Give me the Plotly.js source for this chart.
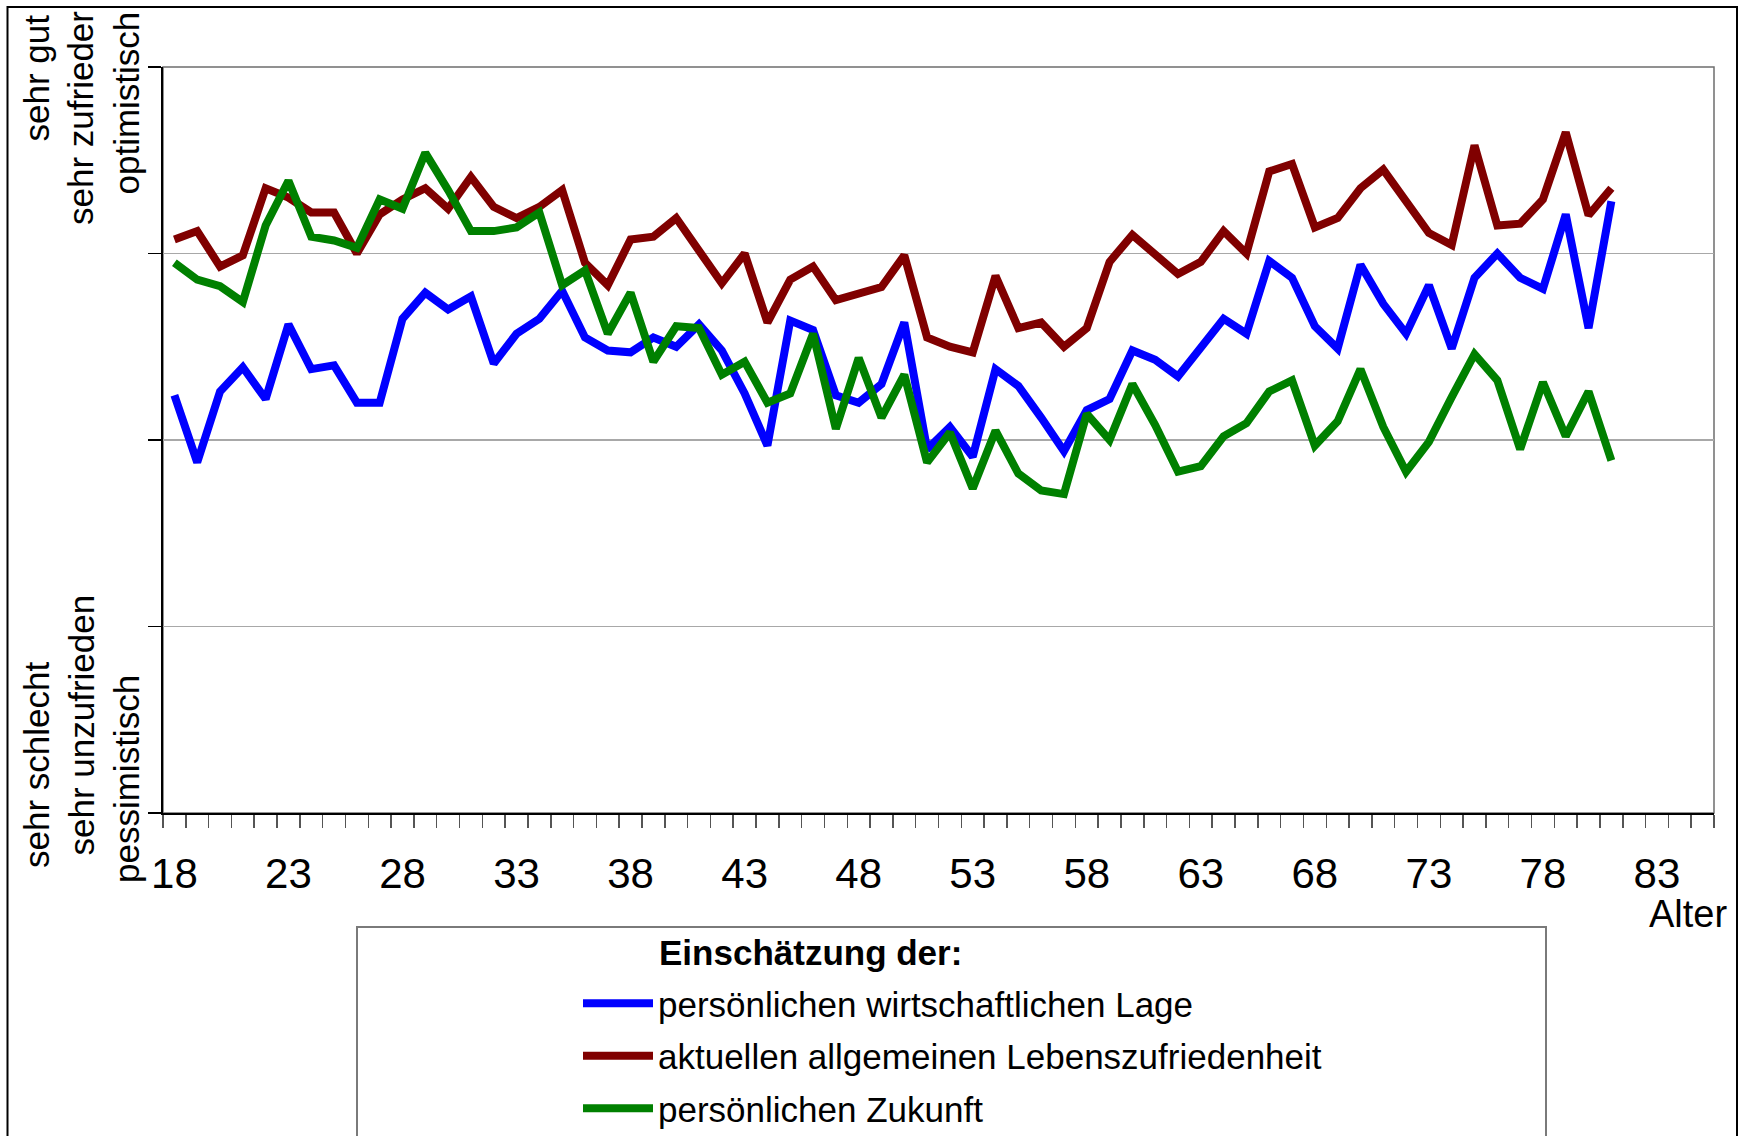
<!DOCTYPE html>
<html>
<head>
<meta charset="utf-8">
<script src="https://cdn.plot.ly/plotly-3.0.1.min.js"></script>
<style>html,body{margin:0;padding:0;background:#fff;}#chart{width:1744px;height:1136px;}</style>
</head>
<body>
<div id="chart"></div>
<script>
// Data (age categories and mean assessments; 1 = very bad ... 5 = very good)
var ages = [18,19,20,21,22,23,24,25,26,27,28,29,30,31,32,33,34,35,36,37,38,39,40,41,42,43,44,45,46,47,48,49,
            50,51,52,53,54,55,56,57,58,59,60,61,62,63,64,65,66,67,68,69,70,71,72,73,74,75,76,77,78,79,80,81];
var lage = [3.24,2.88,3.26,3.39,3.22,3.62,3.38,3.40,3.20,3.20,3.65,3.79,3.70,3.77,3.41,3.57,3.65,3.80,3.55,3.48,3.47,3.55,3.50,3.62,3.48,3.25,2.97,3.64,3.59,3.24,3.20,3.30,
            3.63,2.95,3.07,2.91,3.38,3.29,3.12,2.94,3.16,3.22,3.48,3.43,3.34,3.50,3.65,3.57,3.96,3.87,3.61,3.49,3.94,3.73,3.57,3.83,3.49,3.87,4.00,3.87,3.81,4.21,3.60,4.28];
var leben = [4.075,4.12,3.93,3.99,4.35,4.30,4.22,4.22,4.00,4.21,4.29,4.35,4.24,4.41,4.25,4.19,4.25,4.34,3.95,3.83,4.075,4.09,4.19,4.02,3.84,4.00,3.63,3.86,3.93,3.75,3.79,3.82,
             3.99,3.55,3.50,3.47,3.88,3.60,3.63,3.50,3.60,3.955,4.10,4.00,3.89,3.955,4.12,4.00,4.44,4.48,4.14,4.19,4.35,4.45,4.28,4.11,4.045,4.58,4.15,4.16,4.29,4.65,4.205,4.35];
var zukunft = [3.95,3.86,3.825,3.74,4.15,4.39,4.09,4.07,4.03,4.29,4.24,4.54,4.34,4.12,4.12,4.14,4.22,3.83,3.91,3.57,3.79,3.42,3.61,3.60,3.35,3.42,3.20,3.25,3.57,3.06,3.44,3.12,
               3.35,2.88,3.04,2.74,3.05,2.82,2.73,2.71,3.14,3.00,3.30,3.08,2.83,2.86,3.02,3.09,3.26,3.32,2.97,3.10,3.38,3.07,2.83,2.99,3.23,3.46,3.32,2.95,3.31,3.02,3.26,2.89];
var seriesNames = ['persönlichen wirtschaftlichen Lage','aktuellen allgemeinen Lebenszufriedenheit','persönlichen Zukunft'];
var xTickVals = [18,23,28,33,38,43,48,53,58,63,68,73,78,83];
var yTickVals = [1,2,3,4,5];

var FONT = 'Liberation Sans, Arial, Helvetica, sans-serif';
var W = 1744, H = 1136, L = 163, R = 1714, T = 67, B = 813;
function px(x){ return (x - L) / (R - L); }
function py(y){ return (B - y) / (B - T); }

function mk(y, name, color, grp){
  return {x: ages, y: y, name: name, type: 'scatter', mode: 'lines', legendgroup: grp,
          line: {color: color, width: 8}, hoverinfo: 'skip'};
}
var data = [
  mk(lage, seriesNames[0], '#0000FF', 'a'),
  mk(leben, seriesNames[1], '#800000', 'b'),
  mk(zukunft, seriesNames[2], '#008000', 'c')
];

function rot(text, x, y, anchor){
  return {text: text, xref: 'paper', yref: 'paper', x: px(x), y: py(y), xanchor: 'center', yanchor: anchor,
          textangle: -90, showarrow: false, font: {family: FONT, size: 35, color: '#000'}};
}

var layout = {
  width: W, height: H,
  margin: {l: L, r: W - R, t: T, b: H - B, pad: 0, autoexpand: false},
  paper_bgcolor: '#fff', plot_bgcolor: '#fff',
  font: {family: FONT, color: '#000'},
  showlegend: true,
  legend: {xref: 'container', yref: 'container', x: 578 / W, y: 1 - 974 / H, xanchor: 'left', yanchor: 'top',
           bgcolor: 'rgba(0,0,0,0)', borderwidth: 0,
           font: {family: FONT, size: 35, color: '#000'}, traceorder: 'grouped', tracegroupgap: 4, itemwidth: 70},
  xaxis: {range: [17.5, 85.5], tickvals: xTickVals, ticks: '', showgrid: false, zeroline: false,
          showline: true, linecolor: '#000', linewidth: 2, fixedrange: true, automargin: false,
          tickfont: {family: FONT, size: 42, color: '#000'}, ticklabelstandoff: 23,
          minor: {tick0: 17.5, dtick: 1, ticks: 'outside', ticklen: 13, tickwidth: 1.5, tickcolor: '#555', showgrid: false}},
  yaxis: {range: [1, 5], tickvals: yTickVals, showticklabels: false, ticks: 'outside', ticklen: 13, tickwidth: 1.5,
          tickcolor: '#000', showgrid: true, gridcolor: '#A8A8A8', gridwidth: 1.5, zeroline: false,
          showline: true, linecolor: '#000', linewidth: 2, fixedrange: true, automargin: false},
  shapes: [
    {type: 'rect', xref: 'paper', yref: 'paper', x0: 0, x1: 1, y0: 0, y1: 1, layer: 'below',
     line: {color: '#6E6E6E', width: 1.5}},
    {type: 'rect', xref: 'paper', yref: 'paper', x0: px(357), x1: px(1546), y0: py(927), y1: py(1300), layer: 'above',
     line: {color: '#7A7A7A', width: 2}},
    {type: 'rect', xref: 'paper', yref: 'paper', x0: px(7.5), x1: px(1737), y0: py(7), y1: py(1300), layer: 'above',
     line: {color: '#000', width: 2}}
  ],
  annotations: [
    rot('sehr gut', 36, 12, 'top'),
    rot('sehr zufrieder', 81, 9, 'top'),
    rot('optimistisch', 126, 10, 'top'),
    rot('sehr schlecht', 36, 870, 'bottom'),
    rot('sehr unzufrieden', 81, 858, 'bottom'),
    rot('pessimistisch', 126, 885, 'bottom'),
    {text: 'Alter', xref: 'paper', yref: 'paper', x: px(1729), y: py(914), xanchor: 'right', yanchor: 'middle',
     showarrow: false, font: {family: FONT, size: 38, color: '#000'}},
    {text: '<b>Einschätzung der:</b>', xref: 'paper', yref: 'paper', x: px(657), y: py(953), xanchor: 'left', yanchor: 'middle',
     showarrow: false, font: {family: FONT, size: 35, color: '#000'}}
  ]
};

Plotly.newPlot('chart', data, layout, {staticPlot: true, displayModeBar: false});
</script>
</body>
</html>
